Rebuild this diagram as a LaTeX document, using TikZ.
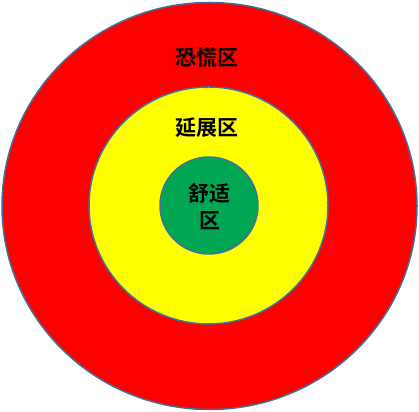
\documentclass[tikz,border=0pt]{standalone}
\usepackage{fontspec}
\usepackage{tikz}
\usetikzlibrary{shapes.geometric}
\newfontfamily\cjk{Noto Sans CJK SC}[BoldFont={Noto Sans CJK SC Bold}]
\definecolor{panic}{RGB}{255,0,0}
\definecolor{stretch}{RGB}{255,255,0}
\definecolor{comfort}{RGB}{0,166,81}
\definecolor{rim}{RGB}{65,113,156}
\begin{document}
\begin{tikzpicture}[x=1pt,y=1pt,
  zone/.style={draw=rim,line width=1.5pt,ellipse,inner sep=0pt},
  lbl/.style={font=\cjk\bfseries\fontsize{21}{27}\selectfont,text=black,align=center}]
  \useasboundingbox (0,0) rectangle (419,411);
  \node[zone,fill=panic,minimum width=415pt,minimum height=407pt] (outer) at (209.5,205) {};
  \node[zone,fill=stretch,minimum width=239pt,minimum height=237pt] (mid) at (208.5,205.5) {};
  \node[zone,fill=comfort,minimum width=98pt,minimum height=97pt] (inner) at (209,205.5) {};
  \node[lbl] (panictxt) at (207,353) {恐慌区};
  \node[lbl] (stretchtxt) at (207,283) {延展区};
  \node[lbl] (comforttxt) at (209.5,204.5) {舒适\\区};
\end{tikzpicture}
\end{document}
